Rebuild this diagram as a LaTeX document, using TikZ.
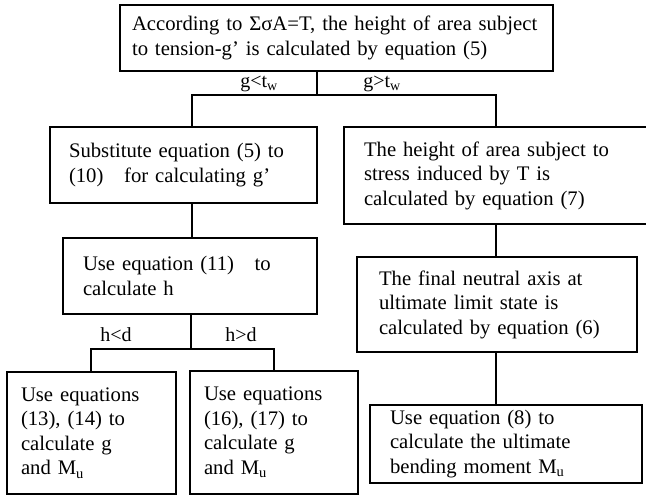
\documentclass[tikz,border=0pt]{standalone}
\usepackage{fontspec}
\setmainfont{Liberation Serif}
\usetikzlibrary{positioning}

\begin{document}
\begin{tikzpicture}[x=1pt,y=-1pt,line width=1.5pt,
    flowbox/.style={draw,line width=1.7pt,inner xsep=0pt,inner ysep=0pt,align=left,
      font=\fontsize{20.7}{24.5}\selectfont},
    cond/.style={font=\fontsize{20}{22}\selectfont,inner sep=0pt}]
    \useasboundingbox (0,0) rectangle (646,497);
    \clip (0,0) rectangle (646,497);

    \node[flowbox,minimum width=433,minimum height=66,text width=409] (tension) at (336.5,38)
      {According to ΣσA=T, the height of area subject\\ to tension-g’ is calculated by equation (5)};
    \node[flowbox,minimum width=267,minimum height=76,text width=229] (subst) at (183.5,165)
      {Substitute equation (5) to\\ (10)\quad for calculating g’};
    \node[flowbox,minimum width=308,minimum height=97,text width=268] (stress) at (498,175.5)
      {The height of area subject to\\ stress induced by T is\\ calculated by equation (7)};
    \node[flowbox,minimum width=254,minimum height=76,text width=214] (calch) at (190,276)
      {Use equation (11)\quad to\\ calculate h};
    \node[flowbox,minimum width=280,minimum height=95,text width=236] (axis) at (497,304.5)
      {The final neutral axis at\\ ultimate limit state is\\ calculated by equation (6)};
    \node[flowbox,minimum width=169,minimum height=122,text width=141] (casea) at (91.5,433)
      {Use equations\\ (13), (14) to\\ calculate g\\ and M\textsubscript{u}};
    \node[flowbox,minimum width=168,minimum height=123,text width=140] (caseb) at (274,432.5)
      {Use equations\\ (16), (17) to\\ calculate g\\ and M\textsubscript{u}};
    \node[flowbox,minimum width=272,minimum height=78,text width=232] (moment) at (506,444)
      {Use equation (8) to\\ calculate the ultimate\\ bending moment M\textsubscript{u}};

    % branch points
    \coordinate (gsplit) at (317,95);
    \coordinate (gleft) at (192,95);
    \coordinate (gright) at (496,95);
    \coordinate (hsplit) at (191,349);
    \coordinate (hleft) at (91,349);
    \coordinate (hright) at (274,349);

    \draw (tension.south -| gsplit) -- (gsplit);
    \draw (subst.north -| gleft) |- (gright) -- (stress.north -| gright);
    \draw (subst.south -| gleft) -- (calch.north -| gleft);
    \draw (calch.south -| hsplit) -- (hsplit);
    \draw (casea.north -| hleft) |- (hright) -- (caseb.north -| hright);
    \draw (stress.south -| gright) -- (axis.north -| gright);
    \draw (axis.south -| gright) -- (moment.north -| gright);

    \node[cond] (glt) at (259,84) {g<t\textsubscript{w}};
    \node[cond] (ggt) at (382,84) {g>t\textsubscript{w}};
    \node[cond] (hlt) at (116,335) {h<d};
    \node[cond] (hgt) at (241,335) {h>d};
\end{tikzpicture}
\end{document}
